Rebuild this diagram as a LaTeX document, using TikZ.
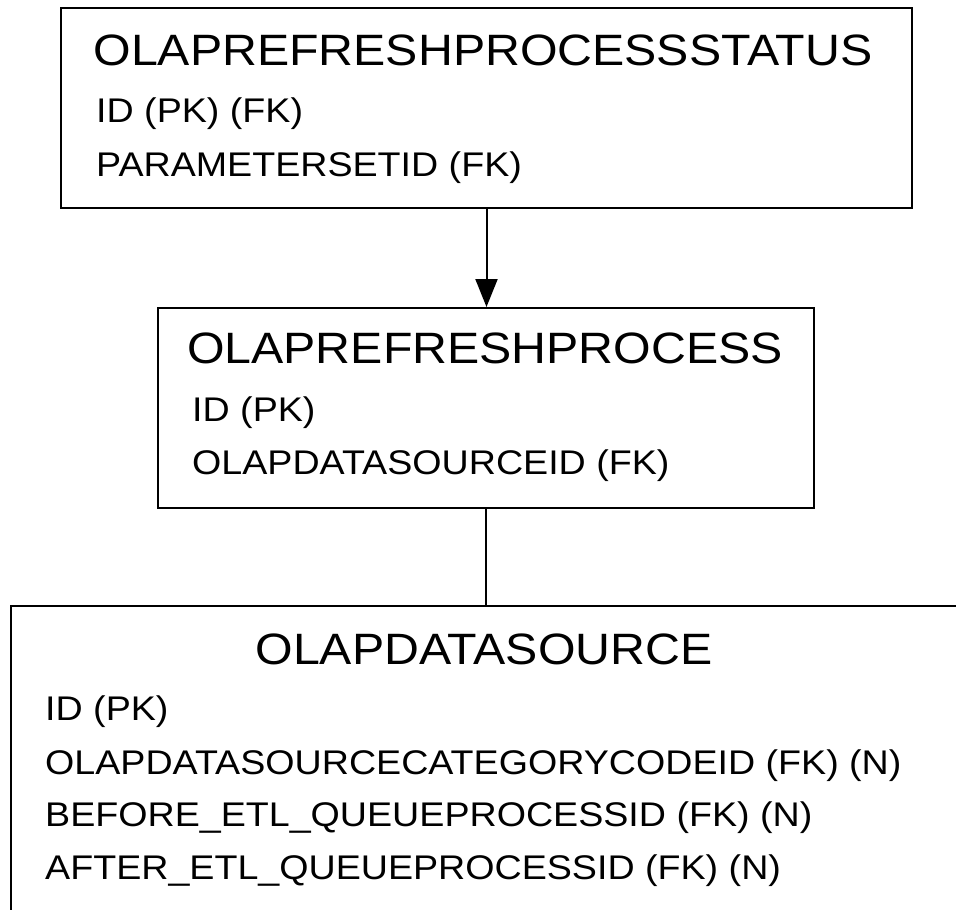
\documentclass[tikz,border=0pt]{standalone}
\usepackage{fontspec}
\setmainfont{Liberation Sans}[FakeStretch=1.1]
\usetikzlibrary{arrows.meta}

\tikzset{
  entity/.style = {draw, rectangle, line width=2pt, inner sep=0pt},
  tablename/.style = {anchor = base, inner sep=0pt, font=\fontsize{43.9}{50}\selectfont},
  field/.style = {anchor = base west, inner sep=0pt, font=\fontsize{34.2}{40}\selectfont},
}

\begin{document}
\begin{tikzpicture}[x=1pt, y=-1pt]
\clip (0,0) rectangle (956,910);

\node[entity, minimum width=851pt, minimum height=200pt] (status) at (486.5,108) {};
\node[entity, minimum width=656pt, minimum height=200pt] (process) at (485.5,408) {};
\node[entity, minimum width=1000pt, minimum height=340pt] (source) at (511,776) {};

\node[tablename] (statusname) at (483,65.7) {OLAPREFRESHPROCESSSTATUS};
\node[field] (statusid) at (96,122.7) {ID (PK) (FK)};
\node[field] (statusparam) at (96,176.7) {PARAMETERSETID (FK)};

\node[tablename] (processname) at (485,363.3) {OLAPREFRESHPROCESS};
\node[field] (processid) at (192,421.7) {ID (PK)};
\node[field] (processsource) at (192,474) {OLAPDATASOURCEID (FK)};

\node[tablename] (sourcename) at (484,664) {OLAPDATASOURCE};
\node[field] (sourceid) at (45,720) {ID (PK)};
\node[field] (sourcecategory) at (45,774) {OLAPDATASOURCECATEGORYCODEID (FK) (N)};
\node[field] (sourcebefore) at (45,826.7) {BEFORE\_ETL\_QUEUEPROCESSID (FK) (N)};
\node[field] (sourceafter) at (45,879.3) {AFTER\_ETL\_QUEUEPROCESSID (FK) (N)};

\draw[line width=2pt, -{Triangle[length=28pt, width=22pt]}] (status.south) -- (status.south |- process.north);
\draw[line width=2pt] (process.south) -- (process.south |- source.north);
\end{tikzpicture}
\end{document}
